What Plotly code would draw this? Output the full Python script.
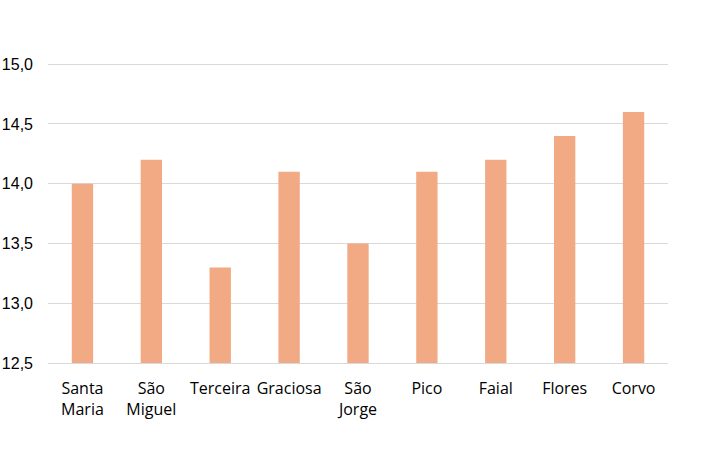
import plotly.graph_objects as go

categories = ["Santa<br>Maria", "São<br>Miguel", "Terceira", "Graciosa", "São<br>Jorge",
              "Pico", "Faial", "Flores", "Corvo"]
values = [14.0, 14.2, 13.3, 14.1, 13.5, 14.1, 14.2, 14.4, 14.6]
y_ticks = [12.5, 13.0, 13.5, 14.0, 14.5, 15.0]

fig = go.Figure(go.Bar(x=categories, y=values, marker=dict(color="#F2AA84", line=dict(width=0)),
                       width=0.31))

fig.update_layout(
    template="none",
    width=708, height=471,
    margin=dict(l=48, r=40, t=63, b=108, autoexpand=False),
    plot_bgcolor="white", paper_bgcolor="white",
    separators=",.",
    font=dict(family="Open Sans, Noto Sans, sans-serif", size=16, color="#000000"),
    showlegend=False,
)
fig.update_yaxes(range=[12.5, 15.01], tickvals=y_ticks, tickformat=".1f", automargin=False,
                 showgrid=True, gridcolor="#D9D9D9", gridwidth=1, zeroline=False,
                 showline=False, ticks="", ticklabelstandoff=14,
                 tickfont=dict(family="Liberation Sans, Arial, sans-serif", size=16))
fig.update_xaxes(showline=True, linecolor="#D9D9D9", linewidth=1, ticks="", automargin=False,
                 showgrid=False, tickfont=dict(size=16), ticklabelstandoff=11)

fig.write_html("out.html", config={"displayModeBar": False},
               post_script="document.body.style.margin='0';document.body.style.overflow='hidden';")
